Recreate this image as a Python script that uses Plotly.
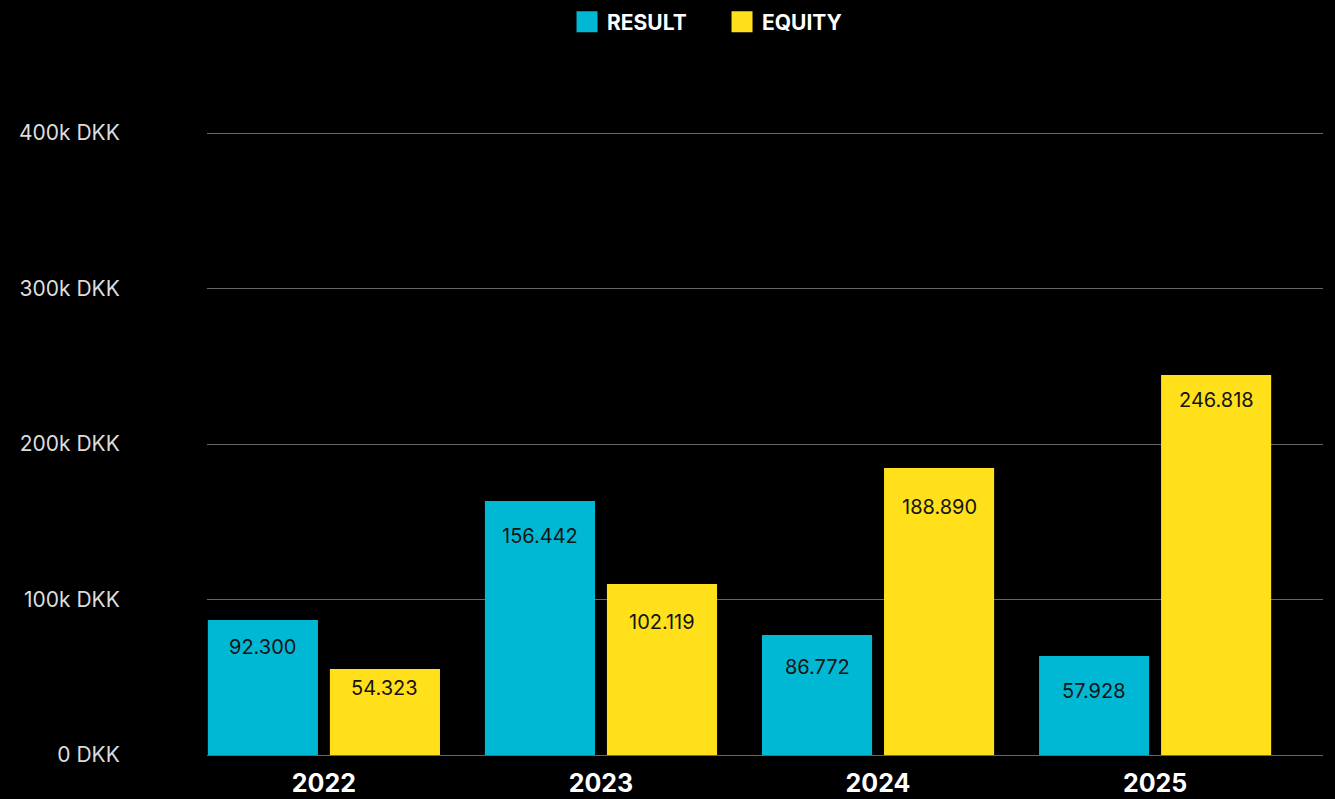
import plotly.graph_objects as go

years = ["2022", "2023", "2024", "2025"]
# bar heights (thousand DKK)
result_bar = [86.8, 163.3, 77.2, 63.7]
equity_bar = [55.3, 110.0, 184.6, 244.4]
# value labels printed on the bars
result_labels = ["92.300", "156.442", "86.772", "57.928"]
equity_labels = ["54.323", "102.119", "188.890", "246.818"]
y_tick_vals = [0, 100, 200, 300, 400]
y_tick_text = ["0 DKK", "100k DKK", "200k DKK", "300k DKK", "400k DKK"]

CYAN = "#00b8d4"
YELLOW = "#ffe01b"
FONT = "Inter, Roboto, sans-serif"

BAR_OFFSET_PX = 61            # half of one bar slot within a group
RESULT_DROP_PX = [27, 35, 32, 35]   # label centre below bar top (style)
EQUITY_DROP_PX = [19, 38, 39, 25]

fig = go.Figure()
annotations = []
for name, vals, labels, col, side, drops in [
        ("RESULT", result_bar, result_labels, CYAN, -1, RESULT_DROP_PX),
        ("EQUITY", equity_bar, equity_labels, YELLOW, 1, EQUITY_DROP_PX)]:
    fig.add_trace(go.Bar(
        x=years, y=vals, name=name, marker=dict(color=col, line=dict(width=0)),
        showlegend=False, hoverinfo="skip",
    ))
    fig.add_trace(go.Scatter(
        x=[None], y=[None], mode="markers", name=name,
        marker=dict(symbol="square", size=16, color=col, line=dict(color=col, width=5)),
    ))
    for idx, (v, t, d) in enumerate(zip(vals, labels, drops)):
        annotations.append(dict(
            x=idx, y=v, xref="x", yref="y", text=t, showarrow=False,
            xshift=side * BAR_OFFSET_PX, yshift=-d,
            xanchor="center", yanchor="middle",
            font=dict(color="#141414", size=20, family=FONT),
        ))

fig.update_layout(
    width=1335, height=799,
    paper_bgcolor="black", plot_bgcolor="black",
    margin=dict(l=207, r=12, t=60, b=44, autoexpand=False),
    barmode="group", bargap=0.119, bargroupgap=0.098,
    font=dict(family=FONT, color="white"),
    annotations=annotations,
    legend=dict(orientation="h", x=0.3226, xanchor="left", y=1.0547, yanchor="middle",
                font=dict(size=21, color="white", family=FONT, weight="bold"),
                bgcolor="rgba(0,0,0,0)", itemsizing="trace",
                entrywidth=110, entrywidthmode="pixels"),
    xaxis=dict(type="category", range=[-0.422, 3.606], showgrid=False,
               showline=False, zeroline=False, automargin=False,
               ticks="outside", ticklen=6, tickcolor="rgba(0,0,0,0)",
               tickfont=dict(size=25, color="white", family=FONT, weight="bold")),
    yaxis=dict(range=[0, 447], tickvals=y_tick_vals, ticktext=y_tick_text,
               showgrid=True, gridcolor="#666666", gridwidth=1, automargin=False,
               zeroline=True, zerolinecolor="#666666", zerolinewidth=1,
               ticks="outside", ticklen=82, tickcolor="rgba(0,0,0,0)",
               tickfont=dict(size=21, color="#dddddd", family=FONT)),
)

fig.write_html("out.html")
